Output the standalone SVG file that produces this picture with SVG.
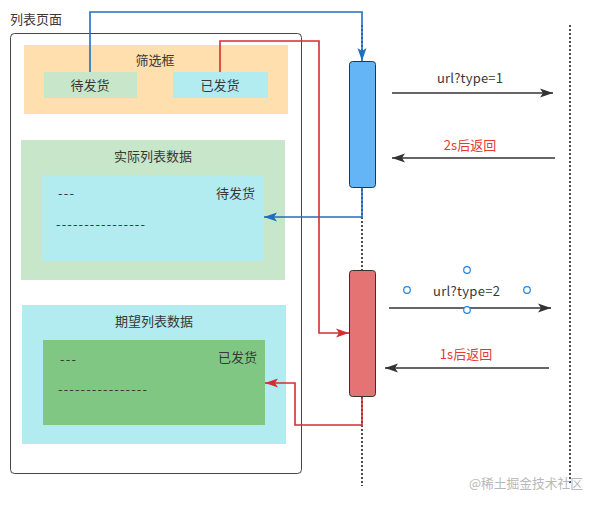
<svg xmlns="http://www.w3.org/2000/svg" width="597" height="505" viewBox="0 0 597 505">
<defs>
<style>
text{font-family:"Noto Sans CJK SC","Liberation Sans",sans-serif;font-size:13px;fill:#383838}
.c{text-anchor:middle}
.life{stroke:#222;stroke-width:1.6;stroke-dasharray:2 2;fill:none}
.msg{stroke:#333;stroke-width:1.6;fill:none}
.blue{stroke:#1E6FC0;stroke-width:1.6;fill:none}
.red{stroke:#D32F2F;stroke-width:1.6;fill:none}
.hdl{fill:#fff;stroke:#2684E0;stroke-width:1.2}
</style>
<marker id="ab" markerWidth="14" markerHeight="10" refX="13" refY="5" orient="auto" markerUnits="userSpaceOnUse"><path d="M0,0.5 L13,5 L0,9.5 L3,5 Z" fill="#333"/></marker>
<marker id="abl" markerWidth="14" markerHeight="10" refX="13" refY="5" orient="auto" markerUnits="userSpaceOnUse"><path d="M0,0.5 L13,5 L0,9.5 L3,5 Z" fill="#1E6FC0"/></marker>
<marker id="ar" markerWidth="14" markerHeight="10" refX="13" refY="5" orient="auto" markerUnits="userSpaceOnUse"><path d="M0,0.5 L13,5 L0,9.5 L3,5 Z" fill="#D32F2F"/></marker>
</defs>
<rect width="597" height="505" fill="#fff"/>
<g id="page">
<text x="10" y="24">列表页面</text>
<rect x="10.5" y="33.5" width="291" height="440" rx="4" fill="#fff" stroke="#444" stroke-width="1"/>
</g>
<g id="filter">
<rect x="24" y="45" width="264" height="69" fill="#FFDFAD"/>
<text class="c" x="155" y="65">筛选框</text>
</g>
<g id="btn-pending">
<rect x="44" y="72" width="93" height="26" fill="#C8E6C9"/>
<text class="c" x="90" y="90">待发货</text>
</g>
<g id="btn-shipped">
<rect x="173" y="72" width="95" height="26" fill="#B2EBF0"/>
<text class="c" x="220" y="90">已发货</text>
</g>
<g id="actual">
<rect x="21" y="140" width="264" height="140" fill="#C8E6C9"/>
<text class="c" x="153" y="161">实际列表数据</text>
<rect x="42" y="175" width="222" height="86" fill="#B2EBF0"/>
<text x="58" y="198" textLength="16" lengthAdjust="spacing">---</text>
<text x="216" y="198">待发货</text>
<text x="56" y="229" textLength="89" lengthAdjust="spacing">----------------</text>
</g>
<g id="expected">
<rect x="22" y="305" width="264" height="139" fill="#B2EBF0"/>
<text class="c" x="154" y="326">期望列表数据</text>
<rect x="43" y="340" width="222" height="85" fill="#81C784"/>
<text x="60" y="364" textLength="16" lengthAdjust="spacing">---</text>
<text x="218" y="362">已发货</text>
<text x="58" y="394" textLength="89" lengthAdjust="spacing">----------------</text>
</g>
<g id="lifelines">
<line class="life" x1="362" y1="25" x2="362" y2="486"/>
<line class="life" x1="570" y1="25" x2="570" y2="484"/>
</g>
<g id="act-blue">
<rect x="349.5" y="61.5" width="26" height="126" rx="3" fill="#64B5F6" stroke="#333" stroke-width="1"/>
</g>
<g id="act-red">
<rect x="349.5" y="270.5" width="26" height="126" rx="3" fill="#E57373" stroke="#333" stroke-width="1"/>
</g>
<g id="connectors">
<polyline class="blue" points="90,72 90,12 362,12 362,61" marker-end="url(#abl)"/>
<polyline class="blue" points="362,188 362,217 264,217" marker-end="url(#abl)"/>
<polyline class="red" points="220,72 220,41 319,41 319,333 349,333" marker-end="url(#ar)"/>
<polyline class="red" points="362,397 362,425 295,425 295,383 265,383" marker-end="url(#ar)"/>
<line class="msg" x1="392" y1="93" x2="553" y2="93" marker-end="url(#ab)"/>
<text x="437" y="83" textLength="66" lengthAdjust="spacing">url?type=1</text>
<line class="msg" x1="555" y1="158" x2="392" y2="158" marker-end="url(#ab)"/>
<text class="c" x="470" y="150" style="fill:#E53935">2s后返回</text>
<line class="msg" x1="389" y1="308" x2="551" y2="308" marker-end="url(#ab)"/>
<text x="433" y="296" textLength="67" lengthAdjust="spacing">url?type=2</text>
<line class="msg" x1="549" y1="368" x2="385" y2="368" marker-end="url(#ab)"/>
<text class="c" x="466" y="359" style="fill:#E53935">1s后返回</text>
<circle class="hdl" cx="467" cy="270" r="3.3"/>
<circle class="hdl" cx="407" cy="290" r="3.3"/>
<circle class="hdl" cx="527" cy="290" r="3.3"/>
<circle class="hdl" cx="467" cy="310" r="3.3"/>
</g>
<text x="469" y="488" textLength="114" lengthAdjust="spacingAndGlyphs" style="fill:#B8B8B8;font-size:13px">@稀土掘金技术社区</text>
</svg>
